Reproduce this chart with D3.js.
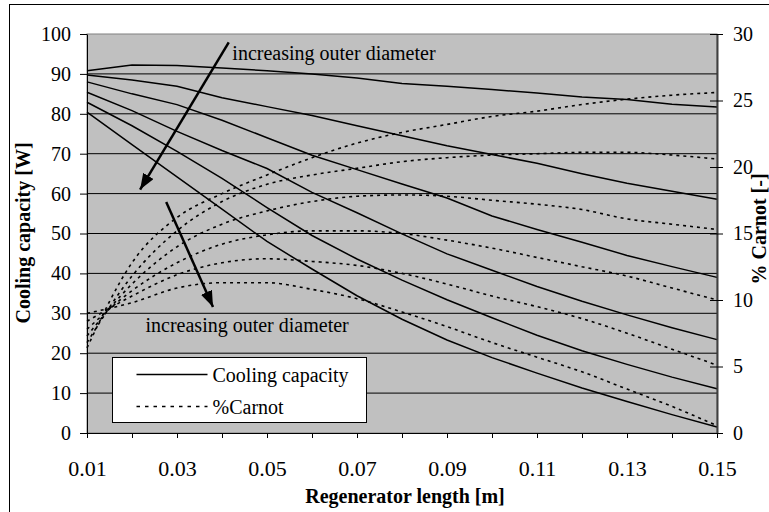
<!DOCTYPE html>
<html>
<head>
<meta charset="utf-8">
<script src="https://cdnjs.cloudflare.com/ajax/libs/d3/7.8.5/d3.min.js"></script>
<style>
body { margin: 0; background: #fff; }
svg { display: block; font-family: "Liberation Serif", "Times New Roman", serif; }
</style>
</head>
<body>
<svg id="chart"></svg>
<script>
// regenerator length [m]
const lengths = [0.01, 0.02, 0.03, 0.04, 0.05, 0.06, 0.07, 0.08, 0.09, 0.10, 0.11, 0.12, 0.13, 0.14, 0.15];

// cooling capacity [W], one array per outer diameter (small -> large)
const cap1 = [90.8, 92.2, 92.1, 91.5, 90.8, 90.0, 89.0, 87.6, 86.9, 86.1, 85.2, 84.2, 83.6, 82.4, 81.7];
const cap2 = [89.7, 88.5, 86.9, 84.0, 81.8, 79.6, 77.0, 74.5, 72.0, 69.8, 67.6, 65.0, 62.6, 60.6, 58.6];
const cap3 = [88.0, 85.0, 82.3, 78.4, 74.0, 69.6, 66.0, 62.4, 58.9, 54.4, 51.0, 47.8, 44.5, 41.7, 39.0];
const cap4 = [85.4, 80.8, 75.6, 70.8, 66.3, 60.3, 55.2, 49.9, 44.9, 40.8, 36.7, 33.0, 29.6, 26.4, 23.4];
const cap5 = [82.9, 77.0, 70.6, 63.8, 56.5, 49.5, 43.6, 38.3, 33.4, 28.9, 24.5, 20.6, 17.2, 14.0, 11.1];
const cap6 = [80.4, 72.3, 64.2, 56.1, 48.0, 41.1, 34.4, 28.5, 23.3, 18.9, 15.0, 11.3, 7.9, 4.6, 1.5];

// %Carnot [-]
const carnot1 = [6.4, 12.8, 16.2, 18.0, 19.4, 20.7, 21.8, 22.6, 23.2, 23.8, 24.2, 24.7, 25.1, 25.4, 25.6];
const carnot2 = [6.8, 11.8, 15.2, 17.4, 18.7, 19.4, 19.9, 20.4, 20.7, 20.9, 21.0, 21.1, 21.1, 20.9, 20.6];
const carnot3 = [7.3, 11.2, 14.0, 15.7, 16.7, 17.4, 17.8, 17.9, 17.8, 17.5, 17.2, 16.8, 16.1, 15.7, 15.3];
const carnot4 = [7.8, 10.7, 12.8, 14.2, 14.9, 15.2, 15.2, 15.0, 14.5, 13.9, 13.2, 12.5, 11.8, 10.9, 10.0];
const carnot5 = [8.4, 10.3, 11.9, 12.8, 13.1, 12.9, 12.6, 12.0, 11.2, 10.3, 9.5, 8.6, 7.5, 6.3, 5.1];
const carnot6 = [9.0, 9.8, 10.9, 11.3, 11.3, 10.8, 10.1, 9.1, 8.0, 6.8, 5.7, 4.6, 3.3, 2.0, 0.55];

// tick labels
const capTicks = [0, 10, 20, 30, 40, 50, 60, 70, 80, 90, 100];
const carnotTicks = [0, 5, 10, 15, 20, 25, 30];

const capacitySeries = [cap1, cap2, cap3, cap4, cap5, cap6];
const carnotSeries = [carnot1, carnot2, carnot3, carnot4, carnot5, carnot6];

class DualLineChart {
    constructor(config) {
        this.config = {
            parent: config.parent,
            width: config.width || 769,
            height: config.height || 512,
            margin: config.margin || {top: 34, right: 52, bottom: 79, left: 87}
        };
        this.init();
    }

    init() {
        let self = this;

        self.svg = d3.select(self.config.parent)
            .attr('width', self.config.width)
            .attr('height', self.config.height);

        self.inner_width = self.config.width - self.config.margin.left - self.config.margin.right;
        self.inner_height = self.config.height - self.config.margin.top - self.config.margin.bottom;

        // outer frame
        self.svg.append('rect')
            .attr('x', 9.5).attr('y', 4.5)
            .attr('width', self.config.width)
            .attr('height', self.config.height)
            .attr('fill', 'none')
            .attr('stroke', '#000');

        self.chart = self.svg.append('g')
            .attr('transform', `translate(${self.config.margin.left}, ${self.config.margin.top})`);

        self.xscale = d3.scaleLinear()
            .domain([0.01, 0.15])
            .range([0, self.inner_width]);

        self.yscale = d3.scaleLinear()
            .domain([0, 100])
            .range([self.inner_height, 0]);

        self.yscale2 = d3.scaleLinear()
            .domain([0, 30])
            .range([self.inner_height, 0]);

        self.xaxis = d3.axisBottom(self.xscale)
            .tickValues(lengths)
            .tickSize(5)
            .tickSizeOuter(0)
            .tickPadding(22)
            .tickFormat((d, i) => i % 2 == 0 ? d3.format('.2f')(d) : '');

        self.yaxis = d3.axisLeft(self.yscale)
            .tickValues(capTicks)
            .tickSize(7)
            .tickSizeOuter(0)
            .tickPadding(9);

        self.yaxis2 = d3.axisRight(self.yscale2)
            .tickValues(carnotTicks)
            .tickSize(6)
            .tickSizeOuter(0)
            .tickPadding(10);

        let defs = self.svg.append('defs');
        defs.append('marker')
            .attr('id', 'head')
            .attr('markerUnits', 'userSpaceOnUse')
            .attr('viewBox', '0 0 16 12')
            .attr('refX', 16).attr('refY', 6)
            .attr('markerWidth', 16).attr('markerHeight', 12)
            .attr('orient', 'auto')
            .append('path')
            .attr('d', 'M0,0 L16,6 L0,12 Z')
            .attr('fill', '#000');
    }

    render() {
        let self = this;

        // plot area
        self.chart.append('rect')
            .attr('width', self.inner_width)
            .attr('height', self.inner_height)
            .attr('fill', '#c0c0c0')
            .attr('stroke', '#808080');

        self.chart.append('g')
            .selectAll('line')
            .data(capTicks.slice(1, -1))
            .join('line')
            .attr('x1', 0)
            .attr('x2', self.inner_width)
            .attr('y1', d => self.yscale(d))
            .attr('y2', d => self.yscale(d))
            .attr('stroke', '#000')
            .attr('stroke-width', 1);

        const capLine = d3.line()
            .x((d, i) => self.xscale(lengths[i]))
            .y(d => self.yscale(d));

        const carnotLine = d3.line()
            .x((d, i) => self.xscale(lengths[i]))
            .y(d => self.yscale2(d))
            .curve(d3.curveMonotoneX);

        self.chart.append('g')
            .selectAll('path')
            .data(carnotSeries)
            .join('path')
            .attr('d', carnotLine)
            .attr('fill', 'none')
            .attr('stroke', '#000')
            .attr('stroke-width', 1.6)
            .attr('stroke-dasharray', '3,4');

        self.chart.append('g')
            .selectAll('path')
            .data(capacitySeries)
            .join('path')
            .attr('d', capLine)
            .attr('fill', 'none')
            .attr('stroke', '#000')
            .attr('stroke-width', 1.5);

        // axes
        const xg = self.chart.append('g')
            .attr('transform', `translate(0, ${self.inner_height})`)
            .call(self.xaxis);
        xg.selectAll('text').attr('font-size', 22).attr('font-family', null);

        const yg = self.chart.append('g').call(self.yaxis);
        yg.selectAll('text').attr('font-size', 20).attr('font-family', null);

        const yg2 = self.chart.append('g')
            .attr('transform', `translate(${self.inner_width}, 0)`)
            .call(self.yaxis2);
        yg2.selectAll('.tick line').attr('x1', -7);
        yg2.select('.domain').attr('stroke', '#404040').attr('stroke-width', 2);
        yg2.selectAll('text').attr('font-size', 20).attr('font-family', null);

        [xg, yg, yg2].forEach(g => g.attr('font-family', null));

        // annotations
        const ann = self.chart.append('g');
        ann.append('line')
            .attr('x1', self.xscale(0.0415)).attr('y1', self.yscale(97.9))
            .attr('x2', self.xscale(0.0218)).attr('y2', self.yscale(61.0))
            .attr('stroke', '#000').attr('stroke-width', 2.5)
            .attr('marker-end', 'url(#head)');
        ann.append('line')
            .attr('x1', self.xscale(0.0276)).attr('y1', self.yscale(57.9))
            .attr('x2', self.xscale(0.0380)).attr('y2', self.yscale(31.6))
            .attr('stroke', '#000').attr('stroke-width', 2.5)
            .attr('marker-end', 'url(#head)');
        ann.append('text')
            .attr('x', self.xscale(0.0423)).attr('y', self.yscale(93.4))
            .attr('font-size', 20)
            .text('increasing outer diameter');
        ann.append('text')
            .attr('x', self.xscale(0.0230)).attr('y', self.yscale(25.4))
            .attr('font-size', 20)
            .text('increasing outer diameter');

        // legend
        const lg = self.svg.append('g').attr('transform', 'translate(112.5, 357.5)');
        lg.append('rect')
            .attr('width', 254).attr('height', 65)
            .attr('fill', '#fff').attr('stroke', '#000');
        lg.append('line')
            .attr('x1', 24).attr('x2', 95).attr('y1', 17).attr('y2', 17)
            .attr('stroke', '#000').attr('stroke-width', 1.5);
        lg.append('line')
            .attr('x1', 24).attr('x2', 95).attr('y1', 49).attr('y2', 49)
            .attr('stroke', '#000').attr('stroke-width', 1.6)
            .attr('stroke-dasharray', '3.5,5');
        lg.append('text').attr('x', 100).attr('y', 24).attr('font-size', 20).text('Cooling capacity');
        lg.append('text').attr('x', 100).attr('y', 56).attr('font-size', 20).text('%Carnot');

        // axis titles
        self.svg.append('text')
            .attr('transform', `translate(30, 233) rotate(-90)`)
            .attr('text-anchor', 'middle')
            .attr('font-size', 20).attr('font-weight', 'bold')
            .text('Cooling capacity [W]');
        self.svg.append('text')
            .attr('transform', `translate(766, 229) rotate(-90)`)
            .attr('text-anchor', 'middle')
            .attr('font-size', 20).attr('font-weight', 'bold')
            .text('% Carnot [-]');
        self.svg.append('text')
            .attr('x', 405).attr('y', 503)
            .attr('text-anchor', 'middle')
            .attr('font-size', 20).attr('font-weight', 'bold')
            .text('Regenerator length [m]');
    }
}

let chart = new DualLineChart({parent: '#chart'});
chart.render();
</script>
</body>
</html>
